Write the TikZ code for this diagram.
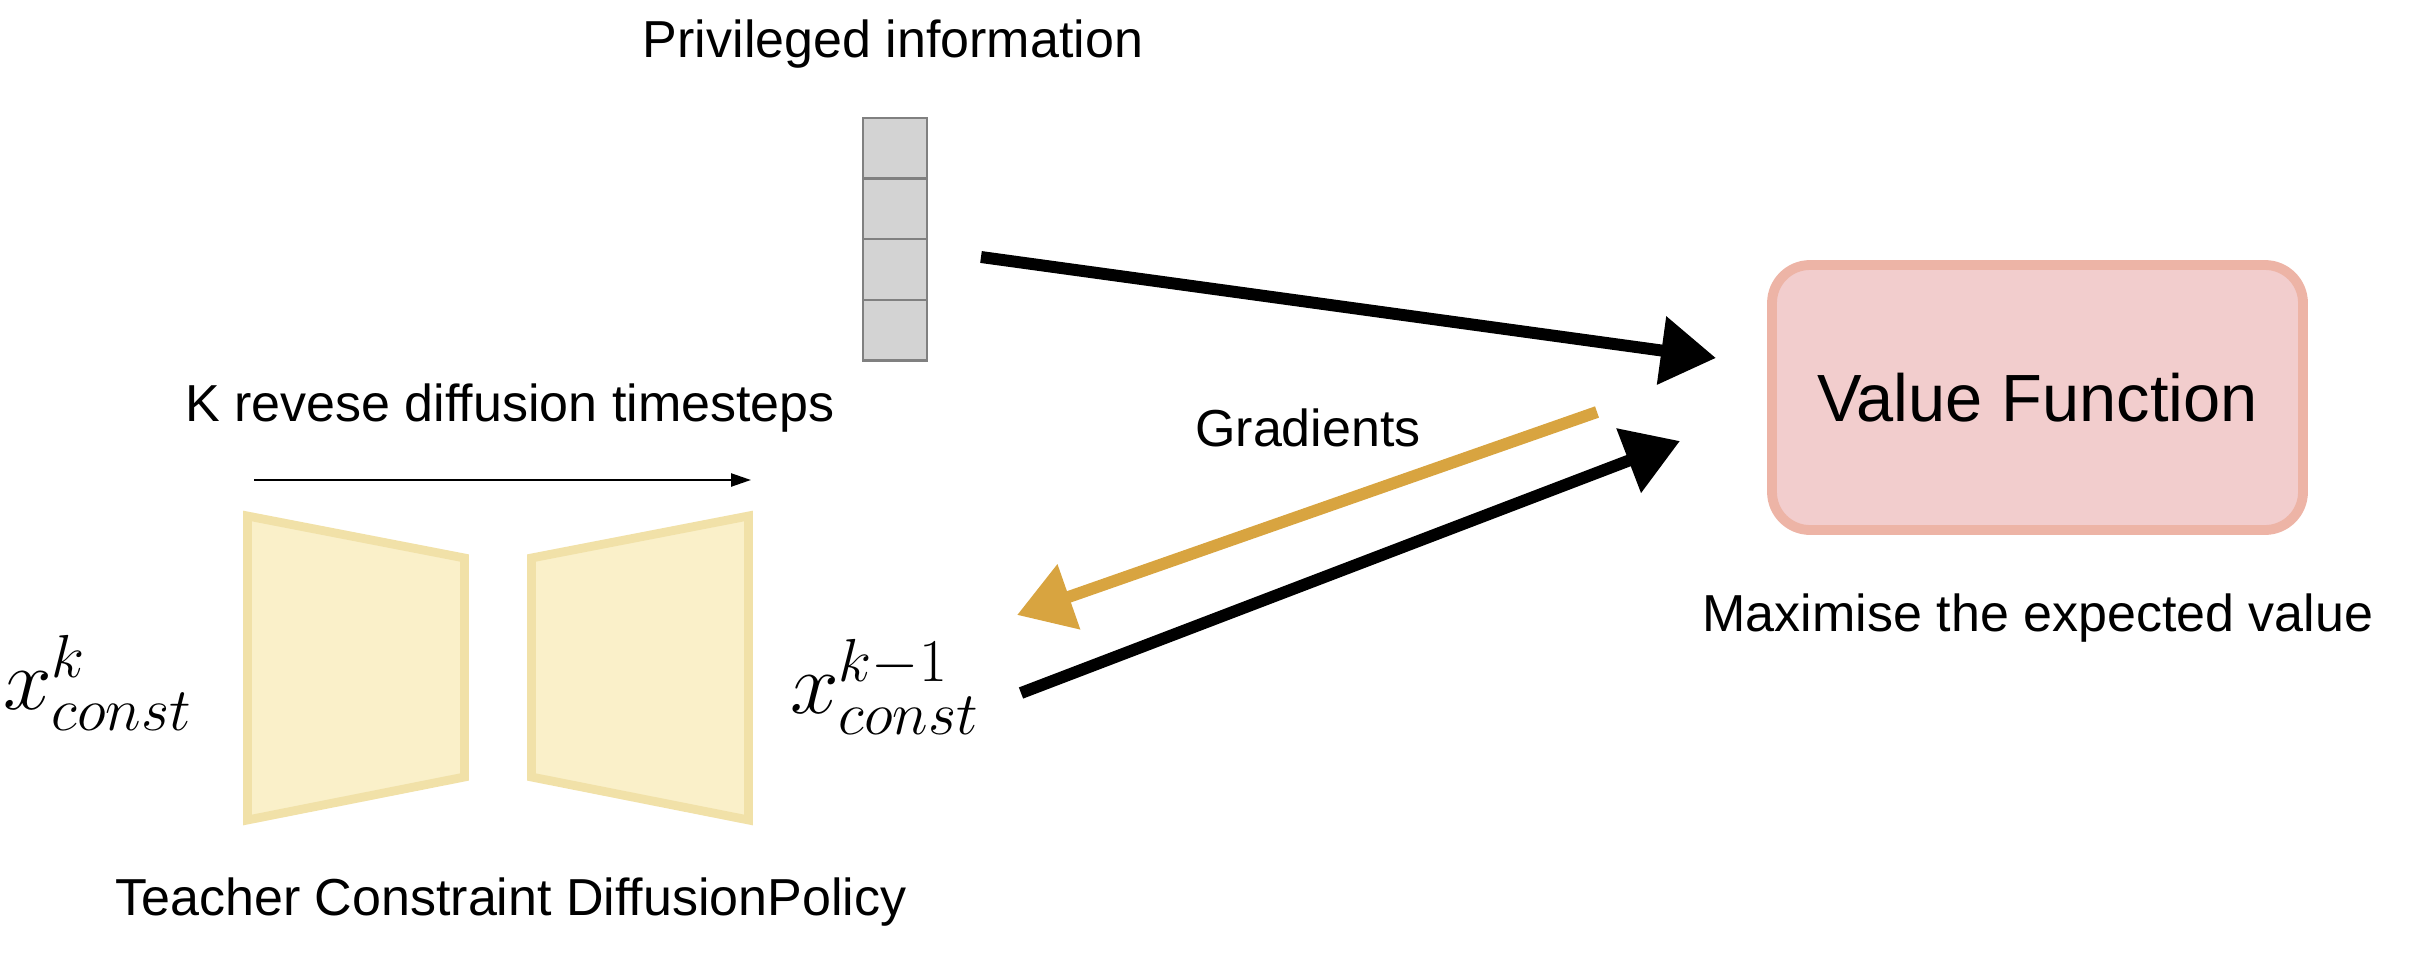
\documentclass[tikz,border=0pt]{standalone}
\usepackage{fontspec}
\setmainfont{Liberation Sans}
\usetikzlibrary{arrows.meta}

\definecolor{trapfill}{RGB}{250,240,201}
\definecolor{trapline}{RGB}{241,225,168}
\definecolor{vffill}{RGB}{242,205,205}
\definecolor{vfline}{RGB}{237,180,166}
\definecolor{gradcol}{RGB}{216,164,64}
\definecolor{cellfill}{RGB}{211,211,211}

\tikzset{
lbl/.style={anchor=base, inner sep=0pt, font=\fontsize{14.8}{17}\selectfont},
mathlbl/.style={inner sep=0pt, font=\fontsize{24}{28}\selectfont},
cell/.style={draw=gray, line width=0.6pt, fill=cellfill, minimum width=0.64cm, minimum height=0.605cm, inner sep=0pt},
trap/.style={draw=trapline, fill=trapfill, line width=2.5pt, line join=miter},
vfbox/.style={draw=vfline, fill=vffill, line width=2.8pt, rounded corners=0.38cm, minimum width=5.31cm, minimum height=2.65cm, inner sep=0pt, font=\fontsize{19}{22}\selectfont},
bigarrow/.style={line width=3.4pt, -{Triangle[length=0.55cm,width=0.66cm]}}
}

\begin{document}
\begin{tikzpicture}
\useasboundingbox (0,0) rectangle (24.18,-9.70);

\node [lbl] (privlbl) at (8.93,-0.57) {Privileged information};
\foreach \i in {1,...,4}
  \node [cell] (cell\i) at (8.95,{-1.48-0.6075*(\i-1)}) {};

\node [lbl] (steplbl) at (5.10,-4.21) {K revese diffusion timesteps};
\coordinate (tsl) at (2.54,-4.80);
\coordinate (tsr) at (7.51,-4.80);
\draw [line width=0.7pt, -{Triangle[length=0.2cm,width=0.13cm]}] (tsl)--(tsr);

\draw [trap] (2.475,-5.16)--(4.645,-5.58)--(4.645,-7.77)--(2.475,-8.20)--cycle;
\draw [trap] (5.315,-5.58)--(7.485,-5.16)--(7.485,-8.20)--(5.315,-7.77)--cycle;

\node [mathlbl] (xk) at (0.98,-6.83) {$x^{k}_{const}$};
\node [mathlbl] (xkm) at (8.85,-6.87) {$x^{k-1}_{const}$};
\node [lbl] (teachlbl) at (5.11,-9.15) {Teacher Constraint DiffusionPolicy};

\node [vfbox] (vf) at (20.375,-3.975) {Value Function};
\node [lbl] (maxlbl) at (20.38,-6.31) {Maximise the expected value};

\coordinate (a1s) at (9.81,-2.57);
\coordinate (a1e) at (17.16,-3.58);
\draw [bigarrow] (a1s)--(a1e);

\node [lbl] (gradlbl) at (13.08,-4.46) {Gradients};
\coordinate (g1s) at (15.97,-4.12);
\coordinate (g1e) at (10.17,-6.15);
\draw [bigarrow, gradcol] (g1s)--(g1e);

\coordinate (a2s) at (10.21,-6.93);
\coordinate (a2e) at (16.80,-4.41);
\draw [bigarrow] (a2s)--(a2e);
\end{tikzpicture}
\end{document}
